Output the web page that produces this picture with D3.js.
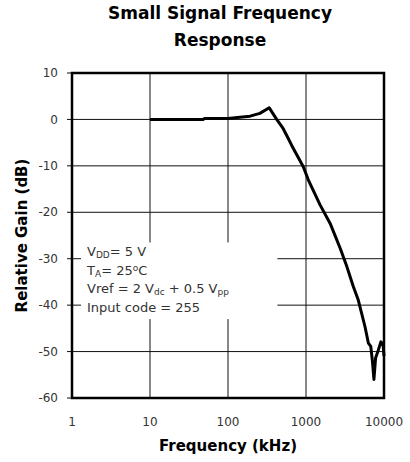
<!DOCTYPE html>
<html>
<head>
<meta charset="utf-8">
<script src="https://cdn.jsdelivr.net/npm/d3@7"></script>
<style>
  body { margin: 0; background: #fff; }
  text { font-family: "DejaVu Sans", sans-serif; }
</style>
</head>
<body>
<div id="graph"></div>
<script>
// frequency in kHz, gain in dB
var freq = [10, 30, 48, 50, 100, 142, 192, 256, 338, 421, 511, 588, 656, 923, 1070, 1515, 2040, 2750, 3340, 4040, 4680, 5700, 6310, 6770, 7100, 7430, 7800, 8450, 9120, 9500, 9780, 10000]
var gain = [0, 0, 0, 0.2, 0.2, 0.45, 0.7, 1.3, 2.5, 0, -2, -4, -5.6, -10.2, -13, -18.4, -22.4, -27.8, -31.7, -36, -38.9, -44.6, -48.2, -48.9, -52, -56, -51.4, -49.7, -47.9, -48.2, -48.9, -51]

var xTicks = [1, 10, 100, 1000, 10000]
var yTicks = [10, 0, -10, -20, -30, -40, -50, -60]

var title = ["Small Signal Frequency", "Response"]
var xTitle = "Frequency (kHz)"
var yTitle = "Relative Gain (dB)"

// legend lines: [text, kind] where kind is n (normal), sub, sup
var legendLines = [
    [["V", "n"], ["DD", "sub"], ["= 5 V", "n"]],
    [["T", "n"], ["A", "sub"], ["= 25", "n"], ["o", "sup"], ["C", "n"]],
    [["Vref = 2 V", "n"], ["dc", "sub"], [" + 0.5 V", "n"], ["pp", "sub"]],
    [["Input code = 255", "n"]]
]

var width = 410, height = 462
var margin = { top: 73, right: 26, bottom: 64, left: 72 }

var svg = d3.select("#graph")
    .append("svg")
    .attr("width", width)
    .attr("height", height)

var x = d3.scaleLog()
    .domain([1, 10000])
    .range([margin.left, width - margin.right])

var y = d3.scaleLinear()
    .domain([-60, 10])
    .range([height - margin.bottom, margin.top])

// gridlines
svg.append("g")
    .selectAll("line")
    .data(xTicks.slice(1, -1))
    .enter().append("line")
    .attr("x1", function (d) { return x(d) })
    .attr("x2", function (d) { return x(d) })
    .attr("y1", y(10))
    .attr("y2", y(-60))
    .attr("stroke", "#111")
    .attr("stroke-width", 1)

svg.append("g")
    .selectAll("line")
    .data(yTicks)
    .enter().append("line")
    .attr("x1", x(1) - 5)
    .attr("x2", x(10000))
    .attr("y1", function (d) { return y(d) })
    .attr("y2", function (d) { return y(d) })
    .attr("stroke", "#111")
    .attr("stroke-width", 1)

// white box behind the legend text
svg.append("rect")
    .attr("x", x(1) + 9)
    .attr("y", y(-26.5))
    .attr("width", x(430) - x(1) - 9)
    .attr("height", y(-43) - y(-26.5))
    .attr("fill", "#fff")

// frame
svg.append("rect")
    .attr("x", x(1))
    .attr("y", y(10))
    .attr("width", x(10000) - x(1))
    .attr("height", y(-60) - y(10))
    .attr("fill", "none")
    .attr("stroke", "#000")
    .attr("stroke-width", 2.5)

// y tick labels
svg.append("g")
    .selectAll("text")
    .data(yTicks)
    .enter().append("text")
    .attr("x", x(1) - 14)
    .attr("y", function (d) { return y(d) })
    .attr("dy", "0.35em")
    .attr("text-anchor", "end")
    .style("font-size", "12px")
    .style("fill", "#333")
    .text(function (d) { return d })

// x tick labels
svg.append("g")
    .selectAll("text")
    .data(xTicks)
    .enter().append("text")
    .attr("x", function (d) { return x(d) })
    .attr("y", y(-60) + 28)
    .attr("text-anchor", "middle")
    .style("font-size", "12px")
    .style("fill", "#333")
    .text(function (d) { return d })

// titles
svg.append("text")
    .attr("x", 220)
    .attr("y", 19)
    .attr("text-anchor", "middle")
    .style("font-size", "17px")
    .style("font-weight", "bold")
    .selectAll("tspan")
    .data(title)
    .enter().append("tspan")
    .attr("x", 220)
    .attr("dy", function (d, i) { return i == 0 ? 0 : 27 })
    .text(function (d) { return d })

svg.append("text")
    .attr("x", (x(1) + x(10000)) / 2)
    .attr("y", 451)
    .attr("text-anchor", "middle")
    .style("font-size", "15px")
    .style("font-weight", "bold")
    .text(xTitle)

svg.append("text")
    .attr("transform", "translate(27," + ((y(10) + y(-60)) / 2) + ") rotate(-90)")
    .attr("text-anchor", "middle")
    .style("font-size", "15px")
    .style("font-weight", "bold")
    .text(yTitle)

// legend text
legendLines.forEach(function (line, i) {
    var t = svg.append("text")
        .attr("x", 87)
        .attr("y", 256 + i * 18.7)
        .style("font-size", "13px")
        .style("fill", "#333")
    line.forEach(function (seg, j) {
        var prev = j > 0 ? line[j - 1][1] : "n"
        var shift = 0
        if (seg[1] == "sub") shift = 2
        if (seg[1] == "sup") shift = -4
        if (prev == "sub") shift -= 2
        if (prev == "sup") shift += 4
        t.append("tspan")
            .attr("dy", shift)
            .style("font-size", seg[1] == "n" ? "13px" : "9px")
            .text(seg[0])
    })
})

// the curve
var pts = freq.map(function (f, i) { return [f, gain[i]] })
var line = d3.line()
    .x(function (d) { return x(d[0]) })
    .y(function (d) { return y(d[1]) })

svg.append("path")
    .datum(pts)
    .attr("d", line)
    .attr("fill", "none")
    .attr("stroke", "#000")
    .attr("stroke-width", 3)
    .attr("stroke-linejoin", "round")
</script>
</body>
</html>
